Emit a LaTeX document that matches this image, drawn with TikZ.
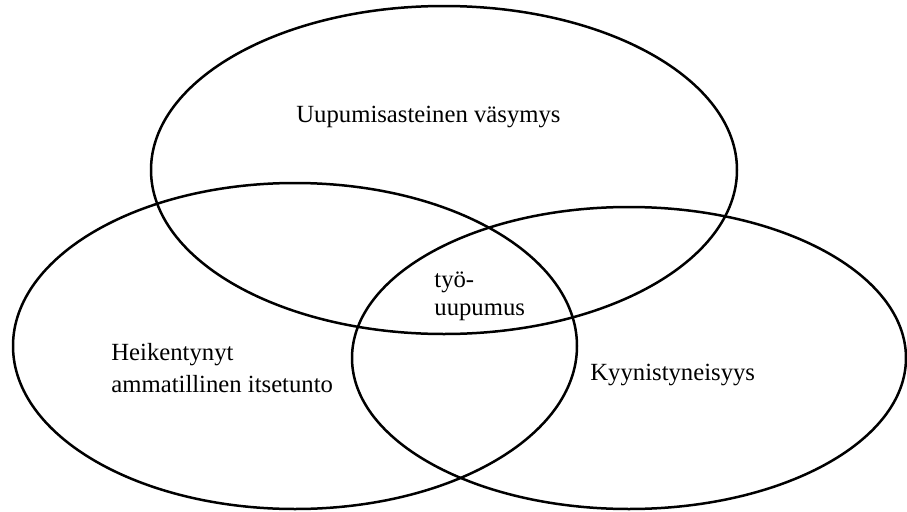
\documentclass[tikz,border=0pt]{standalone}
\usepackage{fontspec}
\setmainfont{Liberation Serif}
\begin{document}
\begin{tikzpicture}
% Venn diagram of burnout, drawn in pixel units of the reference
\def\pxsz{0.5pt}
\providecommand{\vennLineColor}{black}
\providecommand{\vennLineWidth}{1.25pt}
\tikzset{
  venntext/.style={inner sep=0pt, anchor=base west, align=left,
    font=\fontsize{12.35}{16}\selectfont},
}
\begin{scope}[x=\pxsz, y=\pxsz, line cap=round, line join=round]
  % Page frame
  \useasboundingbox (0,0) rectangle (907,511);
  % Three overlapping ellipses
  \begin{scope}[draw=\vennLineColor, line width=\vennLineWidth]
    \draw (444,341) ellipse [x radius=293, y radius=164];
    \draw (295,165) ellipse [x radius=282, y radius=163];
    \draw (629,153) ellipse [x radius=277, y radius=151];
  \end{scope}
  % Labels (base anchor sits on the last line)
  \node[venntext] (vasymys) at (296,389) {Uupumisasteinen väsymys};
  \node[venntext, font=\fontsize{12.35}{14}\selectfont] (tyo) at (434,196) {työ-\\uupumus};
  \node[venntext] (itsetunto) at (111,119) {Heikentynyt\\ammatillinen itsetunto};
  \node[venntext] (kyyn) at (590,131) {Kyynistyneisyys};
\end{scope}
\end{tikzpicture}
\end{document}
